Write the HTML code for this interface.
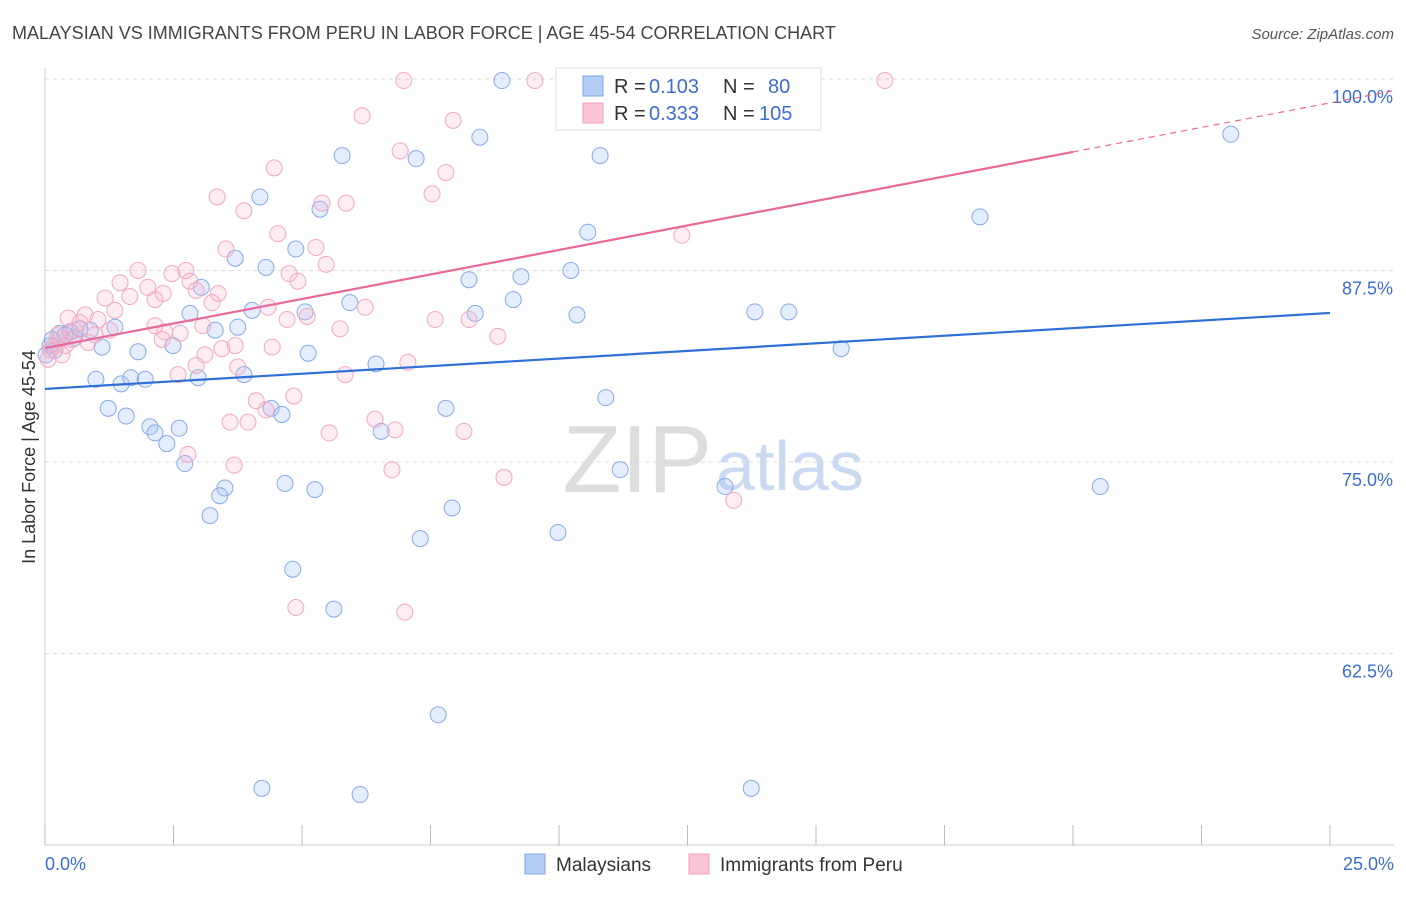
<!DOCTYPE html>
<html><head><meta charset="utf-8"><style>
body{margin:0;background:#fff;font-family:"Liberation Sans",sans-serif;}
svg text{font-family:"Liberation Sans",sans-serif;}
</style></head><body>
<svg id="chart" width="1406" height="892" xmlns="http://www.w3.org/2000/svg">
<text x="12" y="39" font-size="18" fill="#444">MALAYSIAN VS IMMIGRANTS FROM PERU IN LABOR FORCE | AGE 45-54 CORRELATION CHART</text>
<text x="1394" y="39" font-size="15" fill="#555" text-anchor="end" font-style="italic">Source: ZipAtlas.com</text>
<text x="712" y="492" font-size="96" fill="#ddd" text-anchor="end" font-family="Liberation Serif">ZIP</text>
<text x="716" y="490" font-size="70" fill="#c9daf2">atlas</text>
<g id="grid"></g><g id="pts"></g><g id="lines"></g>
<text transform="translate(35,457) rotate(-90)" font-size="18" fill="#333" text-anchor="middle">In Labor Force | Age 45-54</text>
<g>
<rect x="556" y="68" width="265" height="62" fill="#fff" stroke="#ddd"/>
<rect x="583" y="76" width="20" height="20" fill="#b4cdf5" stroke="#7fa6e6"/>
<rect x="583" y="103" width="20" height="20" fill="#f9c4d4" stroke="#f0a0bc"/>
<text x="614" y="93" font-size="20" fill="#333">R =</text>
<text x="649" y="93" font-size="20" fill="#3a6fd0">0.103</text>
<text x="723" y="93" font-size="20" fill="#333">N =</text>
<text x="768" y="93" font-size="20" fill="#3a6fd0">80</text>
<text x="614" y="120" font-size="20" fill="#333">R =</text>
<text x="649" y="120" font-size="20" fill="#3a6fd0">0.333</text>
<text x="723" y="120" font-size="20" fill="#333">N =</text>
<text x="759" y="120" font-size="20" fill="#3a6fd0">105</text>
</g>
<g>
<rect x="525" y="854" width="20" height="20" fill="#b4cdf5" stroke="#7fa6e6"/>
<text x="556" y="871" font-size="19" fill="#333">Malaysians</text>
<rect x="689" y="854" width="20" height="20" fill="#f9c4d4" stroke="#f0a0bc"/>
<text x="720" y="871" font-size="19" fill="#333">Immigrants from Peru</text>
</g>
</svg>
<script>
const yTicks=[100,87.5,75,62.5];
const yTickLabels=["100.0%","87.5%","75.0%","62.5%"];
const xTickLabels=["0.0%","25.0%"];
const blueX=[8.89,23.07,5.78,7.22,8.46,10.80,4.18,5.35,18.19,10.56,4.88,3.70,4.30,8.25,9.26,10.23,3.04,5.93,9.11,8.37,10.35,13.81,14.47,2.82,4.03,5.06,3.75,3.31,1.36,0.29,0.88,0.58,1.11,1.81,2.49,5.12,6.44,15.49,0.99,1.48,1.67,1.95,2.98,3.87,1.23,1.58,2.04,2.14,2.37,2.61,4.40,4.61,7.80,10.91,6.54,2.72,3.50,3.40,4.67,5.25,11.19,13.23,20.53,3.21,7.92,9.98,7.30,4.82,5.62,7.65,4.22,6.13,13.74,0.10,0.19,0.39,0.14,0.49,0.68,0.02];
const blueY=[99.9,96.4,95.0,94.8,96.2,95.0,92.3,91.5,91.0,90.0,88.9,88.3,87.7,86.9,87.1,87.5,86.4,85.4,85.6,84.7,84.6,84.8,84.8,84.7,84.9,84.8,83.8,83.6,83.8,83.4,83.6,83.1,82.5,82.2,82.6,82.1,81.4,82.4,80.4,80.1,80.5,80.4,80.5,80.7,78.5,78.0,77.3,76.9,76.2,77.2,78.5,78.1,78.5,79.2,77.0,74.9,73.3,72.8,73.6,73.2,74.5,73.4,73.4,71.5,72.0,70.4,70.0,68.0,65.4,58.5,53.7,53.3,53.7,82.6,82.3,83.3,83.0,83.5,83.7,82.0];
const pinkX=[6.98,9.53,14.69,16.34,6.17,7.94,6.91,4.46,7.80,3.35,5.39,5.86,7.53,3.87,4.53,5.27,3.52,12.39,5.47,1.81,2.47,2.74,4.75,4.92,1.46,2.00,2.30,2.82,2.94,3.37,1.17,1.65,2.14,4.34,3.25,6.23,1.36,0.78,0.45,1.03,5.10,7.59,8.25,4.71,2.14,3.07,5.74,8.81,1.26,2.63,2.33,2.28,0.84,3.70,4.42,3.11,2.94,3.44,2.59,3.75,5.84,7.06,4.11,4.84,4.30,3.95,3.60,6.42,6.81,5.53,8.15,2.78,3.68,6.75,8.93,13.40,4.88,7.00,0.10,0.19,0.29,0.39,0.58,0.25,0.33,0.68,0.97,0.53,0.06];
const pinkY=[99.9,99.9,99.9,99.9,97.6,97.3,95.3,94.2,93.9,92.3,91.9,91.9,92.5,91.4,89.9,89.0,88.9,89.8,87.9,87.5,87.3,87.5,87.3,86.8,86.7,86.4,86.0,86.8,86.2,86.0,85.7,85.8,85.6,85.1,85.4,85.1,84.9,84.6,84.4,84.3,84.5,84.3,84.3,84.3,83.9,83.9,83.7,83.2,83.6,83.4,83.5,83.0,82.8,82.6,82.5,82.0,81.3,82.4,80.7,81.2,80.7,81.5,79.0,79.3,78.4,77.6,77.6,77.8,77.1,76.9,77.0,75.5,74.8,74.5,74.0,72.5,65.5,65.2,82.3,82.6,83.0,82.6,83.6,83.3,82.0,84.1,83.3,83.0,81.7];
const blueTrend=[79.77,84.73];
const pinkTrend=[82.44,95.24];
const NS="http://www.w3.org/2000/svg";
const X=v=>45+v/25*1285;
const Y=v=>79+(100-v)*15.32;
function mk(tag,attrs,parent){const e=document.createElementNS(NS,tag);for(const k in attrs)e.setAttribute(k,attrs[k]);parent.appendChild(e);return e;}
const grid=document.getElementById('grid');
yTicks.forEach((t,i)=>{
 const l=mk('line',{x1:45,x2:1394,y1:Y(t),y2:Y(t),stroke:'#ddd','stroke-dasharray':'4,4'},grid);
 
 
 const tx=mk('text',{x:1393,y:Y(t)+24,'font-size':18,fill:'#3a6fd0','text-anchor':'end'},grid);
 tx.textContent=yTickLabels[i];
 
 
});
const ax=mk('line',{x1:45,x2:1394,y1:845,y2:845,stroke:'#ccc'},grid);


const ay=mk('line',{x1:45,x2:45,y1:68,y2:845,stroke:'#ccc'},grid);


for(let i=0;i<=10;i++){
 const t=mk('line',{x1:X(i*2.5),x2:X(i*2.5),y1:825,y2:845,stroke:'#bbb'},grid);
 
 
}
[[0,'start',45],[25,'end',1394]].forEach((d,i)=>{
 const t=mk('text',{x:d[2],y:870,'font-size':18,fill:'#3a6fd0','text-anchor':d[1]},grid);
 t.textContent=xTickLabels[i];
 
 
});
const pts=document.getElementById('pts');
blueX.forEach((x,i)=>{
 const c=mk('circle',{cx:X(x),cy:Y(blueY[i]),r:8,fill:'rgba(164,194,244,0.3)',stroke:'#86aae6','stroke-width':1},pts);
 
 
});
pinkX.forEach((x,i)=>{
 const c=mk('circle',{cx:X(x),cy:Y(pinkY[i]),r:8,fill:'rgba(248,180,200,0.25)',stroke:'#f2a8c2','stroke-width':1},pts);
 
 
});
const lines=document.getElementById('lines');
const bl=mk('line',{x1:X(0),y1:Y(blueTrend[0]),x2:X(25),y2:Y(blueTrend[1]),stroke:'#2f6fd6','stroke-width':2.2},lines);


const slope=(pinkTrend[1]-pinkTrend[0])/20;
const pl=mk('line',{x1:X(0),y1:Y(pinkTrend[0]),x2:X(20),y2:Y(pinkTrend[1]),stroke:'#e8699a','stroke-width':2.2},lines);


const pd=mk('line',{x1:X(20),y1:Y(pinkTrend[1]),x2:X(26.3),y2:Y(pinkTrend[0]+slope*26.3),stroke:'#e8699a','stroke-width':1.2,'stroke-dasharray':'6,5'},lines);


</script>
</body></html>
